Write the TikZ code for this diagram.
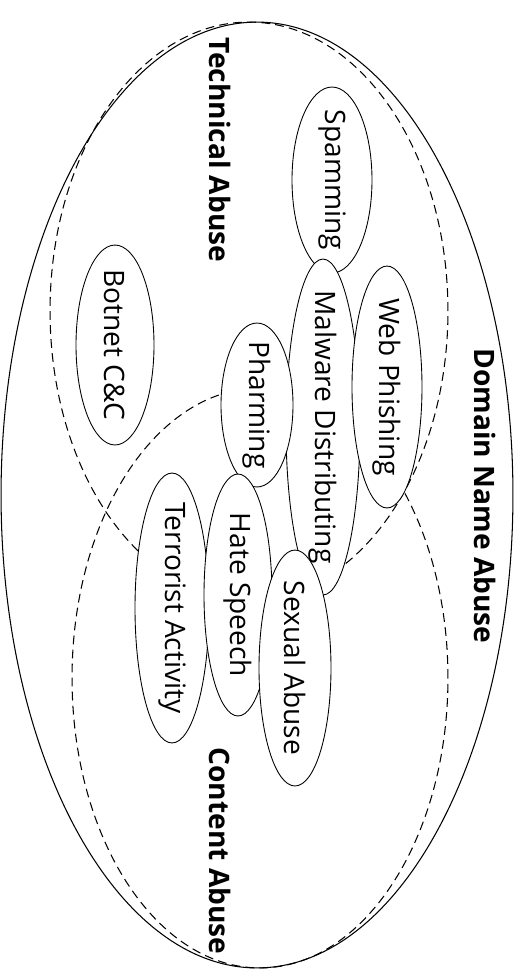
\documentclass[tikz,border=0pt]{standalone}
\usepackage{fontspec}
\setmainfont{Open Sans}
\usetikzlibrary{shapes.geometric}

\begin{document}
\begin{tikzpicture}
[
  x=0.02cm, y=-0.02cm,
  area/.style={ellipse, draw, inner sep=0pt, line width=0.6pt},
  zone/.style={ellipse, draw, dash pattern=on 5pt off 3pt, inner sep=0pt, line width=0.6pt},
  item/.style={ellipse, draw, fill=white, inner sep=0pt, line width=0.5pt},
  tag/.style={rotate=-90, inner sep=0pt},
  title/.style={rotate=-90, inner sep=0pt, font=\fontsize{16}{19}\selectfont\bfseries},
  font=\fontsize{16}{19}\selectfont
]
 \useasboundingbox (0,0) rectangle (526,978);

 % the three abuse regions
 \node[area, minimum width=10.24cm, minimum height=18.92cm] (domain) at (257,495) {};
 \node[zone, minimum width=7.96cm, minimum height=11.56cm] (technical) at (249,311) {};
 \node[zone, minimum width=7.52cm, minimum height=11.6cm] (content) at (260,678) {};

 % the abuse types
 \node[item, minimum width=1.6cm, minimum height=3.72cm, label={[tag]center:Spamming}] (spam) at (332,180) {};
 \node[item, minimum width=1.56cm, minimum height=4cm, label={[tag]center:Botnet C\&C}] (botnet) at (115,345) {};
 \node[item, minimum width=1.48cm, minimum height=6.72cm, label={[tag]center:Malware Distributing}] (malware) at (323,427) {};
 \node[item, minimum width=1.4cm, minimum height=4.84cm, label={[tag]center:Web Phishing}] (phish) at (387,387) {};
 \node[item, minimum width=1.44cm, minimum height=3.28cm, label={[tag]center:Pharming}] (pharm) at (257,405) {};
 \node[item, minimum width=1.48cm, minimum height=5.4cm, label={[tag]center:Terrorist Activity}] (terror) at (172,608) {};
 \node[item, minimum width=1.36cm, minimum height=4.84cm, label={[tag]center:Hate Speech}] (hate) at (238,595) {};
 \node[item, minimum width=1.44cm, minimum height=4.72cm, label={[tag]center:Sexual Abuse}] (sexual) at (295,668) {};

 \node[title] (techname) at (220,150) {Technical Abuse};
 \node[title] (domainname) at (485,496) {Domain Name Abuse};
 \node[title] (contentname) at (220,851) {Content Abuse};
\end{tikzpicture}
\end{document}
